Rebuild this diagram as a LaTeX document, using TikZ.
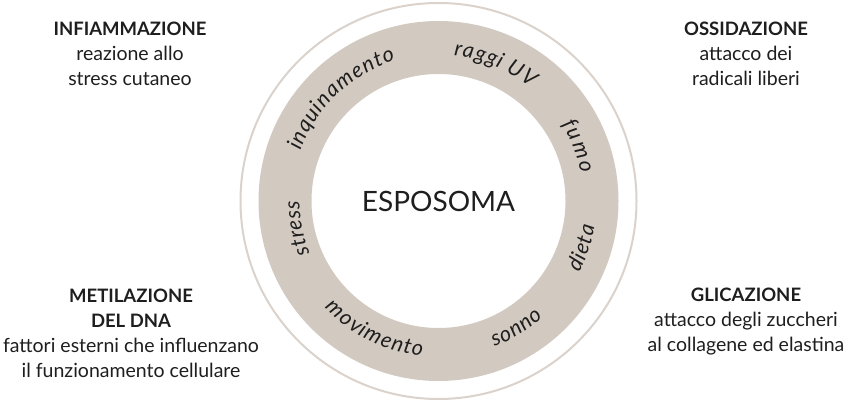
\documentclass[tikz,border=0pt]{standalone}
\usepackage{fontspec}
\setmainfont{Lato}
\usetikzlibrary{decorations.text}
\definecolor{ringc}{HTML}{D2C9C1}
\definecolor{thinc}{HTML}{DAD2CB}
\definecolor{txt}{HTML}{1E1E1E}
\newcommand\ringfont{\fontsize{21.5}{24}\selectfont\itshape}
\newcommand\hd[1]{{\fontsize{18.5}{25}\selectfont\bfseries #1}}
\tikzset{
  block/.style={align=center, text=txt, inner sep=0pt, font=\fontsize{19.5}{25}\selectfont},
  ringtext/.style={decorate, decoration={text effects along path, text={#1},
     text effects/.cd, text along path, fit text to path,
     every character/.style={font=\ringfont, text=txt}}}
}
% #1 text, #2 start angle, #3 end angle, #4 radius, #5 name
\newcommand\ringlabel[5]{%
  \path[ringtext={#1}] ([shift={(#2:#4)}]c) coordinate (#5) arc[start angle=#2, end angle=#3, radius=#4];}
\begin{document}
\begin{tikzpicture}[x=1pt,y=1pt]
\path[use as bounding box] (0,0) rectangle (851,404);
\coordinate (c) at (438.5,203);
\draw[thinc, line width=2pt] (c) circle[radius=198];
\fill[ringc, even odd rule] (c) circle[radius=180] (c) circle[radius=127];
\node[text=txt, font=\fontsize{28}{30}\selectfont, inner sep=0pt] (esp) at (c) {ESPOSOMA};

% top labels (clockwise)
\ringlabel{inquinamento}{160}{107}{147}{s1}
\ringlabel{raggi UV}{84}{51}{146}{s2}
\ringlabel{fumo}{32}{11}{145}{s3}
\ringlabel{stress}{202}{180}{139}{s4}
% bottom labels (counterclockwise)
\ringlabel{dieta}{-27}{-9}{158}{s5}
\ringlabel{sonno}{-69}{-48}{156}{s6}
\ringlabel{movimento}{-137}{-96}{156}{s7}

\node[block] (b1) at (130,350.5) {\hd{INFIAMMAZIONE}\\reazione allo\\stress cutaneo};
\node[block] (b2) at (746,350.5) {\hd{OSSIDAZIONE}\\attacco dei\\radicali liberi};
\node[block] (b3) at (131,71) {\hd{METILAZIONE}\\\hd{DEL DNA}\\fattori esterni che influenzano\\il funzionamento cellulare};
\node[block] (b4) at (746,82) {\hd{GLICAZIONE}\\attacco degli zuccheri\\al collagene ed elastina};
\end{tikzpicture}
\end{document}
